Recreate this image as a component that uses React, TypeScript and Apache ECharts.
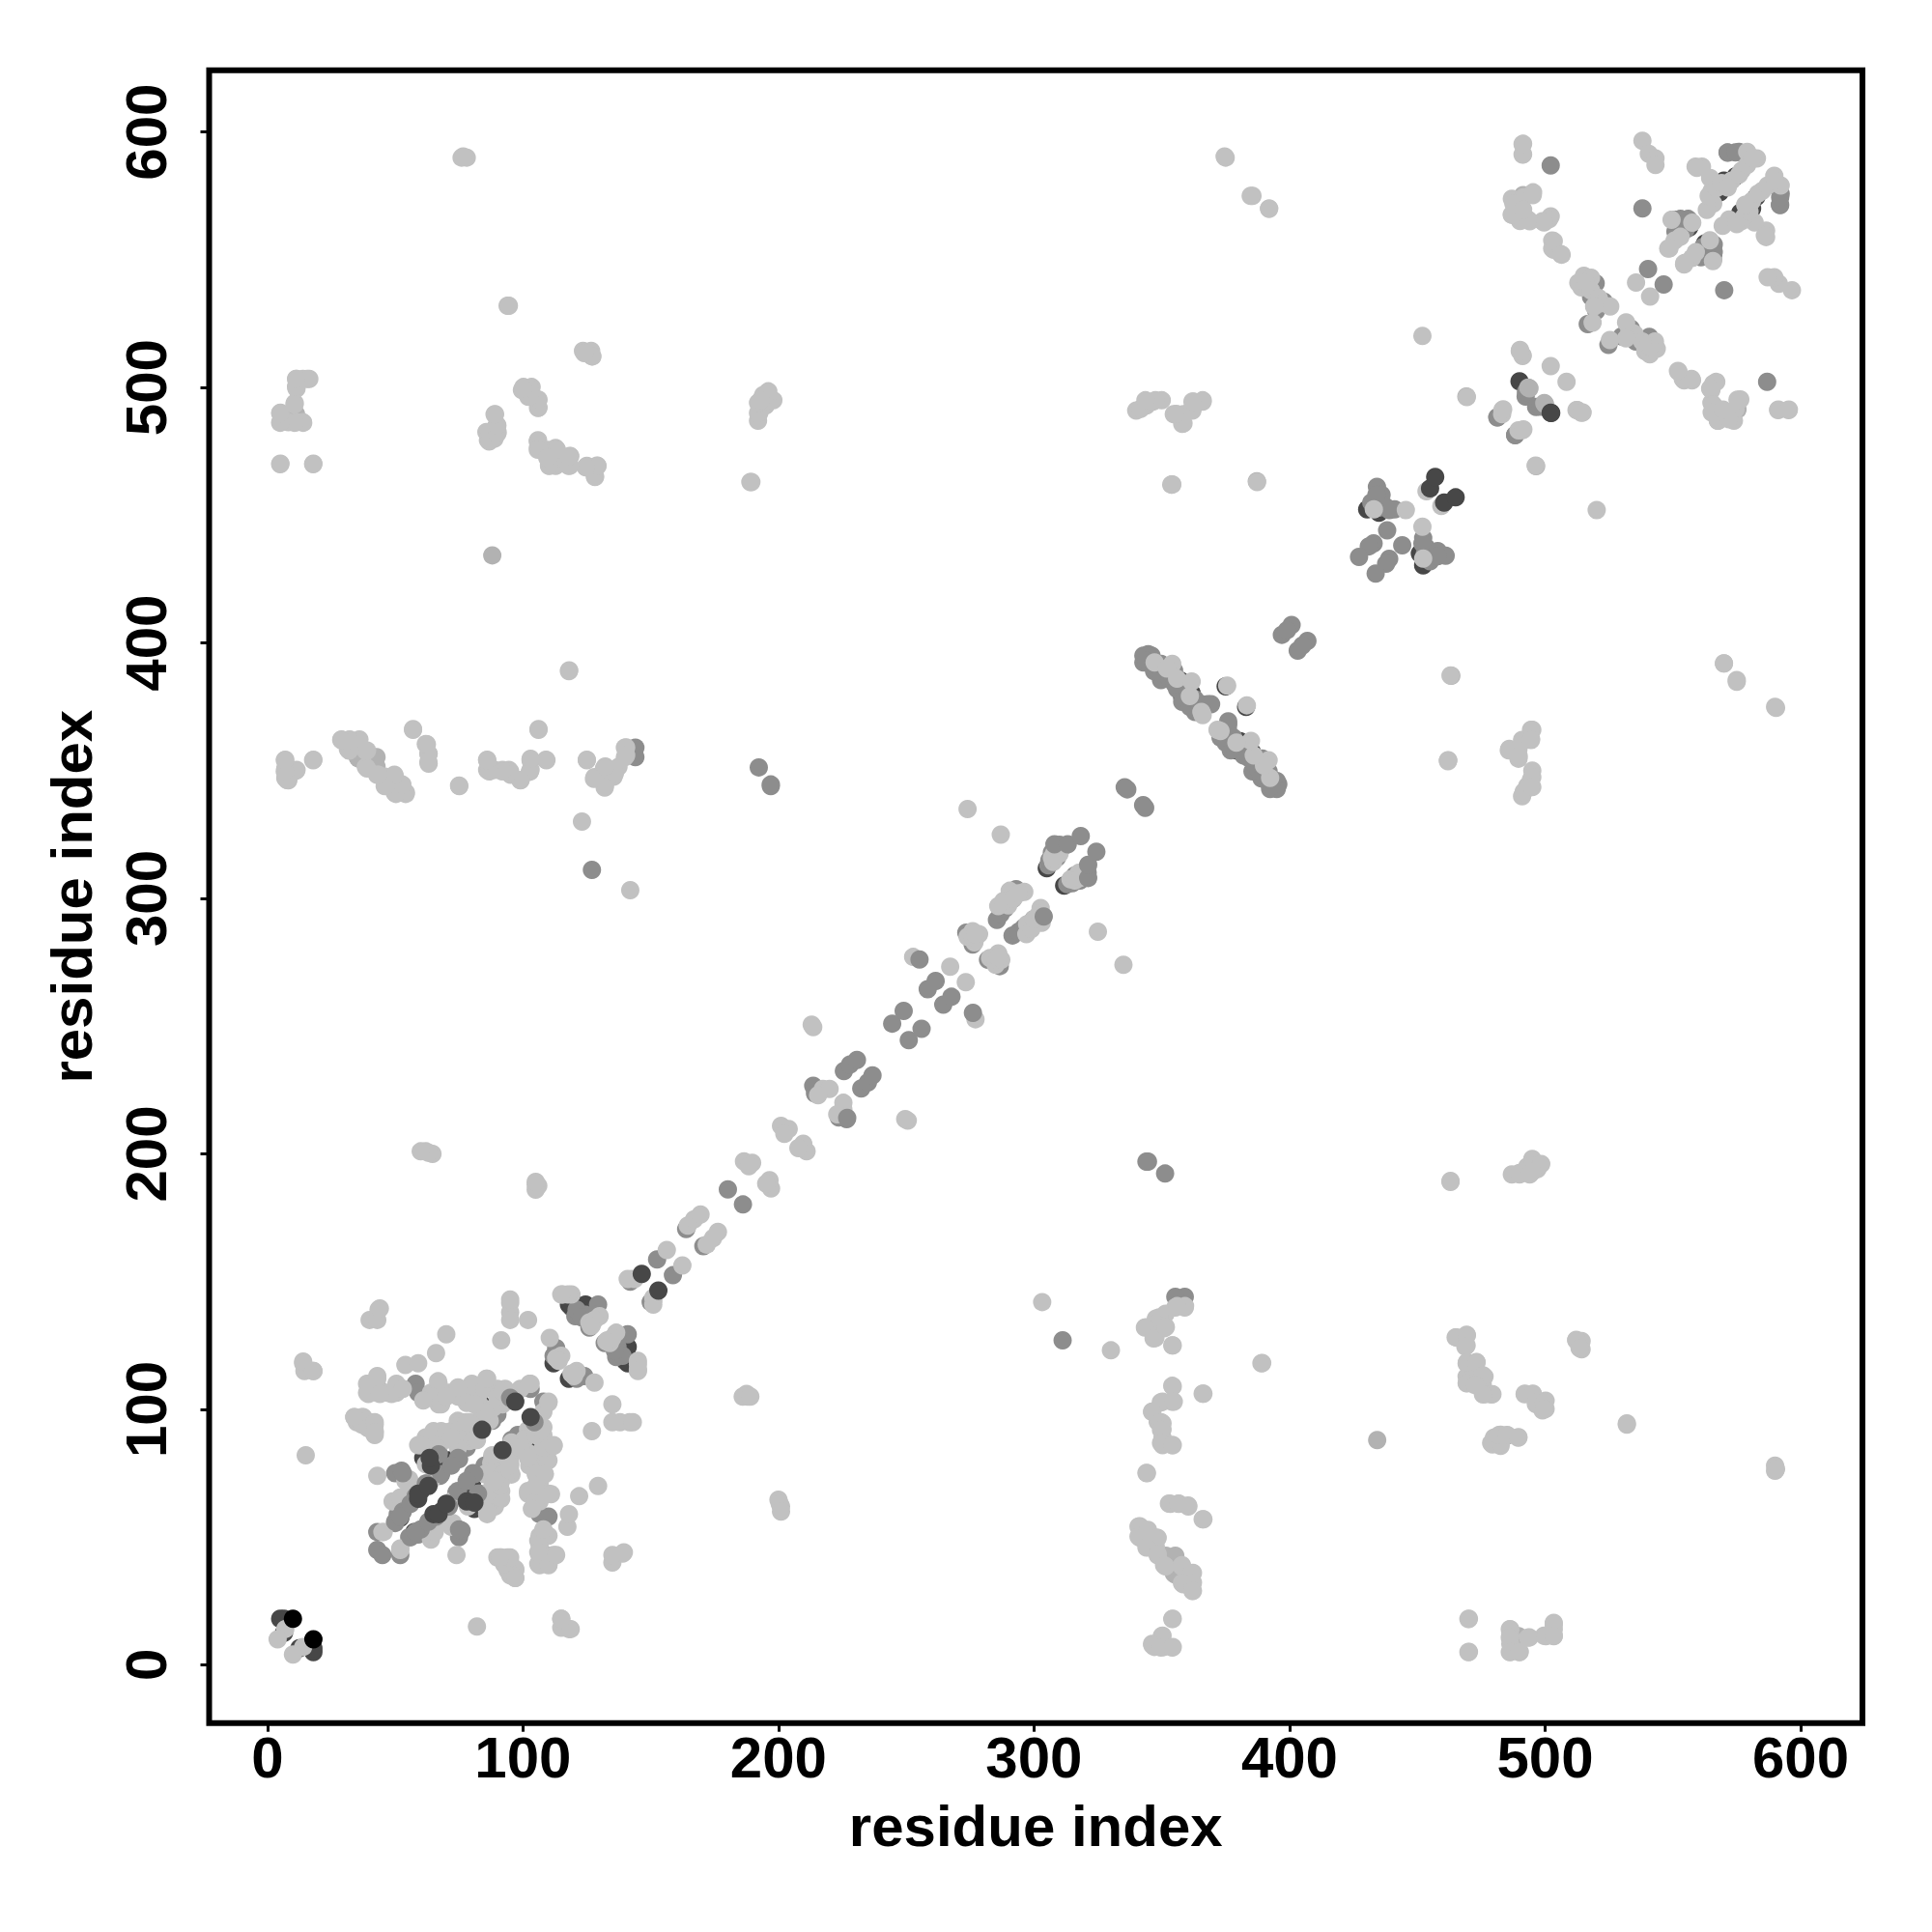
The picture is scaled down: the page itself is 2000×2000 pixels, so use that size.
import React, { useEffect, useRef } from "react";
import * as echarts from "echarts";

type Pair = number[];

const tickValues = [0, 100, 200, 300, 400, 500, 600];
const axisTitle = "residue index";

// Contacts are [residue i, residue j] with i < j; a contact map holds both (i,j) and (j,i).
const blackContacts: Pair[] = [[10, 18]];

const darkUnder: Pair[] = [
  [5, 18], [6.5, 18], [6.5, 12.5], [64, 80], [62, 83], [67, 81], [71, 80], [83, 107], [83, 103], [60, 68], [61, 81], [65, 82],
  [52, 57.5], [112, 118], [112.5, 119], [118, 141], [120.5, 141], [124.5, 141], [125, 140], [119, 140], [305, 311.8],
  [357.3, 385.3], [357.9, 381.7], [358, 379], [361.6, 380.6], [430.4, 452.3], [435, 451], [375, 383], [85, 101],
  [552, 565.7], [556.4, 562.6], [568.4, 576.4], [566, 575], [570, 581], [574.6, 582.7], [490, 502.4], [557, 564],
];

const midContacts: Pair[] = [
  [50, 75], [58, 110], [59, 106.5], [43, 52], [43, 45], [51, 59], [50, 55.5], [67.5, 74], [67, 83], [88, 95.5], [90, 98], [103, 108],
  [81, 88], [78, 85], [113, 124], [112, 121], [113, 122], [129.4, 141], [124.5, 137], [120.5, 136.5], [126, 132], [121, 139], [123, 136],
  [127, 134], [128, 137], [102.6, 108.6], [142.4, 150.9], [142, 150],
  [152.5, 158.7], [163.9, 170.6], [180.2, 186.1], [213.6, 226.7], [214.3, 223.6], [225.6, 232.4], [228, 235],
  [230.7, 236.8], [244.5, 251], [249, 256], [258.4, 264.5], [261.5, 267.7], [273.5, 286.6], [276, 282],
  [285.5, 291.6], [287, 294], [288.6, 296], [289, 298], [291.8, 299.8], [293, 303.6], [305.6, 313], [306, 315], [307, 318], [309, 316],
  [311, 320], [310, 321], [336.5, 342.7], [335.5, 343.5],
  [344.7, 395.6], [342.8, 392.4], [349.7, 391.8], [349.7, 385.5], [354.8, 389.3], [352, 388], [346, 395],
  [342.8, 395], [345, 392], [347, 389], [350, 388], [353, 386], [356, 382], [358, 377], [361, 375], [363, 373], [344, 393],
  [365.5, 376], [368, 376], [369.3, 376], [355, 384], [363, 378], [397, 403.2], [400.8, 407], [399, 405],
  [434.2, 461.1], [435.4, 456], [437.3, 453.6], [441.1, 452.3], [438.2, 444.1], [432.9, 439], [431, 437.8],
  [427.2, 433.7], [435, 453], [439, 452], [432, 455], [436, 458], [434, 458], [192.3, 351.3], [197, 344], [144, 359], [144, 355.3], [127, 311.2],
  [492.4, 496.5], [492.5, 498.3], [481.4, 488.3], [502.2, 586.9], [538.1, 570.1], [540.3, 546.4], [519.8, 540.8],
  [518, 535.5], [523, 533.6], [516.7, 524.8], [520, 530], [550, 565.7], [553, 566], [556, 566], [554, 563], [551, 561],
  [554.5, 565.7], [555.1, 561.9], [571.5, 591.9], [575.9, 592.2], [571.4, 592], [574.5, 592], [344.6, 197], [481.3, 488.3],
];

const midLightContacts: Pair[] = [
  [89.8, 485.3], [10.7, 488.9], [88, 434.3], [41.6, 354.7], [35.3, 355.3], [42.7, 351.6], [42.7, 355.3],
  [35.8, 354.7], [387.2, 463.3], [469.2, 496.5], [493.4, 500], [493.9, 499.7], [491.4, 575.3], [11.2, 489.6],
  [52, 64.5], [43, 109],
];

const lightMainCluster: Pair[] = [
  [7, 14], [4, 10], [45.5, 52], [45, 52], [49, 64], [52, 65.5], [55.5, 72.6], [54, 72], [64, 72], [62, 78.5],
  [56, 70], [43, 74], [14, 118], [14.5, 115], [18, 115], [15, 82],
  [34, 97], [37, 97], [35, 95], [40, 95], [42, 94], [42, 91.5], [42, 90], [39, 93], [37.5, 97], [37, 94], [39.5, 92.6],
  [43.5, 139], [40, 135], [43, 135], [44, 139.5], [39, 110], [43, 112], [39, 106.5], [43, 106.5], [47, 106.5],
  [50.5, 106.5], [50.5, 110], [54, 117.4], [59, 118], [66, 122], [70, 129.4], [67, 110], [64, 106.5], [71, 106.5],
  [67, 102], [77, 106.5], [78, 102.5], [83, 106.5], [83, 102], [86, 112], [90, 108], [93, 108], [103, 110],
  [65, 91.5], [62, 89], [68, 91.5], [59, 86], [74.5, 95.5], [72, 91.5], [75, 91.5], [79, 91.5], [79, 87.6], [67, 87.6],
  [64, 87.6], [73, 87.6], [87, 95.5], [92, 102], [88.4, 100.6], [83, 96], [79, 95],
  [85, 99], [64, 87], [65.5, 91], [60, 86], [68, 87], [74.6, 92], [76, 95], [74.6, 85], [82, 88], [70, 91],
  [78, 95], [72, 89], [81, 102], [74.6, 105], [68, 102], [66.8, 108.6], [66.8, 111], [64, 105], [61, 103.5], [80, 110],
  [74.6, 108.6], [70, 105], [85, 108], [90, 105], [92, 107], [96, 105], [99, 108], [85.7, 112], [102.6, 110],
  [39.5, 106], [39.5, 110], [43, 113], [48.6, 106], [42, 95], [44, 106], [53, 108], [42, 91], [34, 97],
  [95, 141.7], [95, 138], [95, 135], [95, 143], [102, 135], [91.5, 127], [110.5, 128], [115, 121], [113, 120], [114, 119],
  [115.5, 145], [119, 145], [130, 136.5], [126, 134], [127, 133], [128, 135], [126.6, 132.6], [117.6, 145], [115, 145], [14, 118.7], [18, 115],
];

const lightDiagonal: Pair[] = [
  [143.7, 151], [141, 151], [156.3, 162.4], [164.5, 171.9], [167, 174.4], [169.5, 176.3], [186.5, 197.1], [189.7, 196.5], [188.4, 195.2],
  [201, 211], [204, 209.7], [202.3, 207.8], [217.4, 225.4], [220, 225.4], [215.5, 223], [252.7, 277.1], [213, 250.6],
  [213.6, 249.6], [267.2, 273.3], [276, 287.2], [278.5, 286], [276.7, 282.8], [274, 285], [276, 285], [277, 286],
  [289.9, 297.3], [296.2, 302.6], [290.5, 303], [286, 297], [288, 299], [292, 300], [294, 302],
  [307.5, 314.3], [310, 317.5], [307, 316], [308, 318], [347.2, 392.4], [354.1, 391.8], [352, 390], [356, 386], [361.7, 384.9], [361, 379.2], [365.5, 373], [375.6, 383.3],
  [366, 371.8], [445.5, 452], [433, 452.3], [453.6, 459.4], [548.2, 554.4], [550.7, 557.5], [553, 559], [549.5, 565.7], [557.6, 564.5],
  [515.2, 543.7], [518, 543], [514.2, 539.2], [513, 541], [516, 541], [518, 538], [521, 535], [522, 533], [525.5, 531.7], [519.2, 531.7], [518.6, 525.4], [535.6, 541.1],
  [558.9, 586.5], [561.4, 586.5], [564.6, 582], [565.2, 577], [565.8, 572], [563.3, 569.5], [564, 575], [567, 578], [569, 580], [573, 581], [577, 585],
  [571.5, 578.3], [575.9, 583.3], [579.1, 587.1], [579.1, 592.2], [582.9, 589.7], [581, 590],
];

const lightColumnsLow: Pair[] = [
  [5.1, 490.1], [5.1, 486.4], [8.2, 486.4], [11.4, 486.4], [13.9, 486.4], [10.7, 493.9], [11.4, 499.6], [11.4, 503.4],
  [13.9, 503.4], [16.4, 503.4], [5.1, 470.2], [18, 470.2], [76, 590], [78, 590], [94, 532], [123.5, 514.3], [126.7, 514.3],
  [127, 512.2], [99.6, 499], [100.2, 500.2], [103.4, 500.2], [102.1, 496.4], [105.9, 495.2], [105.9, 492], [88.9, 489.5],
  [85.7, 482.6], [90.1, 482.6], [86.3, 479.4], [88.9, 480], [105.9, 479.4], [105.9, 476.5], [109.7, 475.6], [112.8, 476.3],
  [110.3, 469.3], [112.8, 469.3], [118.5, 473.1], [117.9, 469.3], [112.8, 472.5], [125, 469.3], [129.2, 469.3],
  [128.2, 465.2], [118.1, 389.3], [189, 463], [192, 487], [192.5, 490], [195, 493], [198, 495], [195.5, 495],
  [7, 354.3], [7, 350.9], [11.4, 350.3], [7, 347.1], [8.2, 346.2], [18, 354.3], [29, 362.2], [32.2, 362.2], [36, 362.2],
  [31.5, 358.4], [38.5, 357.8], [38.5, 351.5], [42.9, 348.4], [46, 347.7], [49.8, 347.7], [46, 344.6], [51.7, 344],
  [49.8, 341.4], [54.2, 341.4], [57, 366.3], [62.4, 360.3], [63, 356.6], [63, 353.4], [75, 344.2], [86, 354.3], [86, 350.3],
  [88.9, 350.3], [92, 350.3], [94.5, 350.3], [95.2, 348.4], [99, 346.2], [102.7, 349.6], [103, 354], [109, 354.3],
  [106.1, 366.3], [125, 354.3], [139.9, 359], [139.9, 355.3], [137.4, 351.5], [131.7, 350.9], [128, 347.5], [132.1, 344.2],
  [135.5, 347.7], [131.7, 347.7], [123.1, 330.1], [142, 303.2], [62, 201], [64.6, 200], [105, 188], [106, 187.5], [186, 105],
  [189, 105], [200.5, 63], [201, 60], [274, 335], [287, 325],
];

const lightColumnsHigh: Pair[] = [
  [140.4, 359.1], [140.4, 356], [136, 349], [133.5, 347.8], [132, 343.4], [127.8, 346.8], [132.2, 351.6], [125, 354.1],
  [109.2, 354.1], [106.1, 366], [103, 350.3], [103, 354.7], [99.1, 346.3], [95, 349.7], [91.9, 349.7], [86.8, 349.7],
  [86, 354.1], [75.1, 344], [63.1, 352.8], [63.1, 356.6], [62, 360.4], [57, 366], [54.1, 340.9], [50.3, 340.9], [52.8, 344.6],
  [49.7, 348.4], [45.9, 344], [43.4, 348.4], [39, 350.9], [39, 357.9], [35.8, 361.6], [32, 357.9], [32, 362], [28.9, 362],
  [17.9, 354.1], [11.2, 350], [7.7, 346.3], [6.8, 349.7], [6.8, 354.1],
  [128.2, 465], [129, 469.4], [124.6, 468.8], [118.4, 469.4], [118.4, 473.2], [110.2, 469.4], [113.3, 475.7], [105.8, 478.9],
  [105.8, 475.7], [109.5, 472.5], [106.1, 492.1], [106.1, 495.2], [102.6, 496.5], [102.6, 499.6], [100.1, 499.6],
  [86.8, 478.9], [86.8, 482.6], [90, 482], [90, 485.1], [89.1, 489.6], [127.2, 512.2], [124, 513.5], [17.9, 470], [5, 470],
  [14, 486.2], [10.6, 486.2], [5, 486.2], [5, 489.9], [10.6, 493.3], [11.2, 500.3], [15.6, 503.4], [11.2, 503.4],
  [76.6, 590.4], [94.5, 532], [189.4, 463], [192, 490], [192, 494], [194, 497], [196, 498.5], [193, 495], [118, 389],
];

const lightColumnsTop: Pair[] = [
  [375, 590], [385.5, 575], [392, 570], [354.1, 462.1], [340, 491], [344, 493], [346.5, 494.5], [350, 495], [354.7, 489.6],
  [358.5, 489.6], [358.5, 486], [362, 492], [366, 494.5], [362.4, 494.5], [354, 462], [358, 485.8], [355.7, 489.7],
  [362, 491], [366, 495], [341.7, 491.6], [347.5, 495], [343.6, 495], [362, 494.5], [353.7, 462], [374.6, 590.4],
  [384.8, 575], [392, 570], [387.3, 463], [452, 520.2], [490.2, 514.7], [491.2, 512.6], [502.2, 508.4],
  [483.3, 491.2], [489.6, 483.2], [491.5, 483.6], [469.4, 496.3], [491.2, 512.3], [490.1, 514.2],
  [491.2, 595.3], [491.2, 591.2], [487, 573.9], [491.5, 574.5], [495.3, 576.4], [487, 567.6], [490.2, 565.7], [494, 565.1],
  [499, 565.1], [502.2, 567], [502.8, 557.5], [502.8, 554.4], [506.2, 552.2], [503.4, 553.9], [503.4, 557.3], [506.5, 552],
  [501.5, 565.8], [499.6, 564.6], [493.3, 565.8], [490.2, 565.2], [487, 567.7], [487.6, 572], [495.2, 575.3], [491.4, 569.6],
  [491.4, 591.3], [491.4, 595.4], [538.1, 596.6], [540.6, 591.5], [543.2, 589.7], [543.2, 587.1], [559.4, 586], [548.7, 554.5],
];

// Points that sit above their neighbours on one side of the diagonal only.
const topMidBoth: Pair[] = [
  [255.2, 276.1], [308, 321.2], [313.2, 321.2], [318.3, 324.4], [52.5, 76], [75, 80.5], [67, 82.4], [68, 74.6], [74.6, 81],
  [53, 75], [95, 104.5], [50, 56], [53, 60], [52, 58], [62, 71], [58, 66], [56, 63], [72, 78],
];
const topMidOneSided: Pair[] = [[226.9, 214.1], [303.8, 292.9]];
const topDarkBoth: Pair[] = [[97, 103], [84, 92], [59, 65], [59, 67], [146.5, 153], [455, 460.5], [457, 465], [63, 70], [64, 78], [63.5, 81]];
const topDarkOneSided: Pair[] = [[502.2, 490.1]];

const both = (pairs: Pair[]) => pairs.flatMap(([i, j]) => [[i, j], [j, i]]);

const layers: { data: number[][]; color: string }[] = [
  { data: both(darkUnder), color: "#474747" },
  { data: both(midContacts), color: "#8d8d8d" },
  { data: both(midLightContacts), color: "#b2b2b2" },
  { data: both(lightMainCluster), color: "#c1c1c1" },
  { data: both(lightDiagonal), color: "#c1c1c1" },
  { data: both(lightColumnsLow), color: "#c1c1c1" },
  { data: both(lightColumnsHigh), color: "#c1c1c1" },
  { data: both(lightColumnsTop), color: "#c1c1c1" },
  { data: [...both(topMidBoth), ...topMidOneSided], color: "#8d8d8d" },
  { data: [...both(topDarkBoth), ...topDarkOneSided], color: "#474747" },
  { data: both(blackContacts), color: "#000000" },
];

const fontFamily = "Liberation Sans";

function axis(nameGap: number, labelMargin: number, rotate: number) {
  return {
    type: "value",
    min: -22.8,
    max: 624.2,
    name: axisTitle,
    nameLocation: "middle",
    nameGap,
    nameTextStyle: { fontFamily, fontWeight: "bold", fontSize: 60, color: "#000" },
    splitLine: { show: false },
    axisLine: { show: false, onZero: false },
    axisTick: { show: true, length: 9, lineStyle: { color: "#000", width: 3 }, customValues: tickValues },
    axisLabel: {
      show: true,
      customValues: tickValues,
      rotate,
      margin: labelMargin,
      fontFamily,
      fontWeight: "bold",
      fontSize: 60,
      color: "#000",
    },
  };
}

export default function App() {
  const ref = useRef<HTMLDivElement>(null);
  useEffect(() => {
    const chart = echarts.init(ref.current!, null, { renderer: "svg" });
    chart.setOption({
      animation: false,
      backgroundColor: "#fff",
      grid: {
        show: true,
        left: 216.5,
        top: 72.7,
        width: 1711.5,
        height: 1711,
        borderColor: "#000",
        borderWidth: 6,
        backgroundColor: "transparent",
      },
      xAxis: axis(77, 6, 0),
      yAxis: axis(112, 35, 90),
      series: layers.map((l) => ({
        type: "scatter",
        data: l.data,
        symbol: "circle",
        symbolSize: 19,
        itemStyle: { color: l.color, opacity: 1 },
        silent: true,
      })),
    });
    return () => chart.dispose();
  }, []);
  return <div ref={ref} style={{ position: "absolute", left: 0, top: 0, width: 2000, height: 2000 }} />;
}
